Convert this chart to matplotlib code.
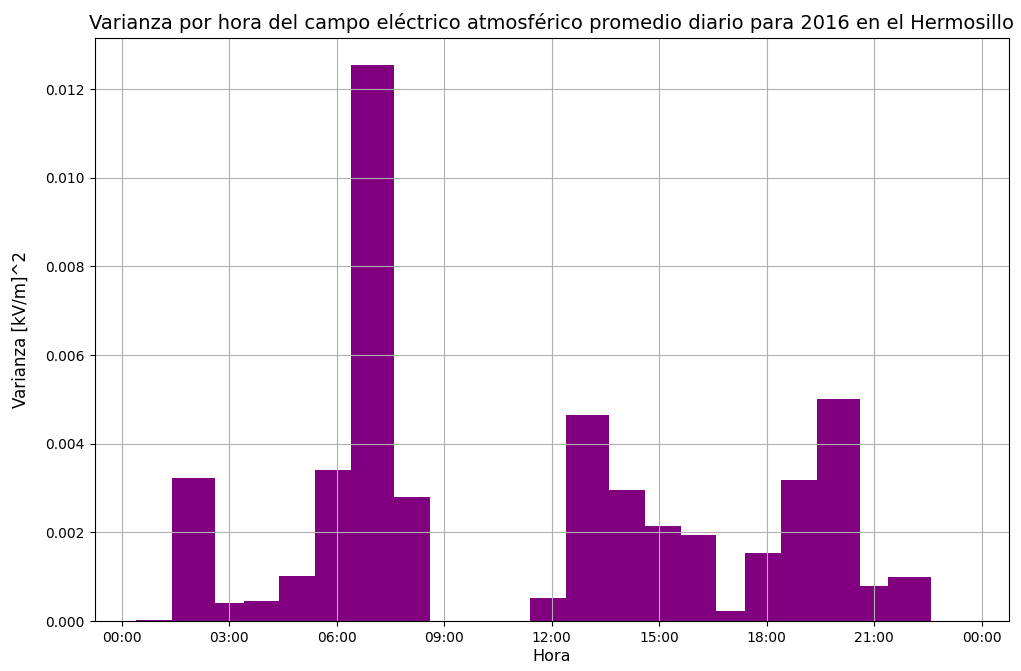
import numpy as np
import matplotlib
matplotlib.use("Agg")
import matplotlib.pyplot as plt

# =========================================================
# 数据：每小时的方差 (kV/m)^2
# =========================================================

hours = np.arange(1, 24)
variance = [
    0.00003, 0.003227, 0.00041, 0.000455, 0.001025, 0.003414, 0.012534,
    0.0028, 0.0, 0.0, 0.0, 0.00053, 0.004647, 0.002963, 0.002137,
    0.00195, 0.00022, 0.001528, 0.003181, 0.005007, 0.00078, 0.000996, 0.0,
]

tick_hours = [0, 3, 6, 9, 12, 15, 18, 21, 24]
tick_labels = ["00:00", "03:00", "06:00", "09:00", "12:00",
               "15:00", "18:00", "21:00", "00:00"]

# =========================================================
# 绘图
# =========================================================

fig, ax = plt.subplots(figsize=(10.21, 6.71), dpi=100)
fig.subplots_adjust(left=0.0927, right=0.988, bottom=0.0745, top=0.9438)

ax.bar(hours, variance, width=1.2, color="purple")

ax.set_xticks(tick_hours)
ax.set_xticklabels(tick_labels)

ax.set_title("Varianza por hora del campo eléctrico atmosférico promedio diario para 2016 en el Hermosillo",
             fontsize=14)
ax.set_xlabel("Hora", fontsize=11.5, labelpad=3)
ax.set_ylabel("Varianza [kV/m]^2", fontsize=12, labelpad=11)
ax.grid(True)

fig.savefig("out.png", dpi=100)
